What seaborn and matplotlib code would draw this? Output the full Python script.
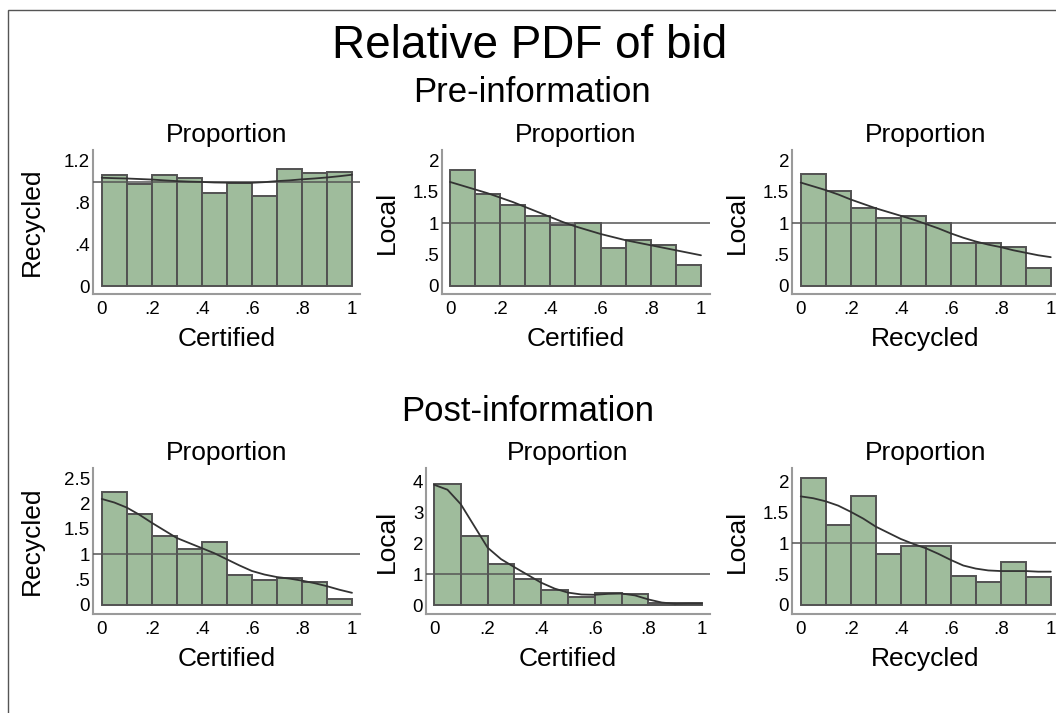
import numpy as np
import matplotlib
matplotlib.use("Agg")
import matplotlib.pyplot as plt
from matplotlib.patches import Rectangle
import seaborn as sns

sns.set_theme(style="white")
plt.rcParams['font.family'] = ['Liberation Sans', 'DejaVu Sans']
plt.rcParams['text.color'] = 'black'
plt.rcParams['axes.labelcolor'] = 'black'
plt.rcParams['xtick.color'] = 'black'
plt.rcParams['ytick.color'] = 'black'

# ---------------- data ----------------
bin_edges = [0.0, 0.1, 0.2, 0.3, 0.4, 0.5, 0.6, 0.7, 0.8, 0.9, 1.0]
curve_x = [0.0, 0.05, 0.1, 0.15, 0.2, 0.25, 0.3, 0.35, 0.4, 0.45, 0.5,
           0.55, 0.6, 0.65, 0.7, 0.75, 0.8, 0.85, 0.9, 0.95, 1.0]
x_ticks = [0, 0.2, 0.4, 0.6, 0.8, 1.0]
x_tick_labels = ["0", ".2", ".4", ".6", ".8", "1"]

pre_rec_cert_bars = [1.06, 0.98, 1.06, 1.03, 0.89, 0.99, 0.86, 1.12, 1.08, 1.09]
pre_rec_cert_curve = [1.037, 1.033, 1.03, 1.025, 1.02, 1.012, 1.005, 1.0, 0.997, 0.992, 0.99,
                      0.989, 0.989, 0.995, 1.005, 1.012, 1.022, 1.03, 1.04, 1.052, 1.066]

pre_loc_cert_bars = [1.85, 1.46, 1.29, 1.11, 0.97, 1.01, 0.61, 0.73, 0.66, 0.33]
pre_loc_cert_curve = [1.66, 1.60, 1.54, 1.48, 1.41, 1.34, 1.26, 1.18, 1.10, 1.02, 0.95,
                      0.89, 0.83, 0.78, 0.73, 0.69, 0.65, 0.61, 0.57, 0.53, 0.49]

pre_loc_rec_bars = [1.79, 1.51, 1.25, 1.09, 1.11, 1.01, 0.68, 0.68, 0.62, 0.29]
pre_loc_rec_curve = [1.65, 1.59, 1.53, 1.46, 1.38, 1.31, 1.24, 1.18, 1.12, 1.06, 0.99,
                     0.92, 0.84, 0.77, 0.71, 0.66, 0.62, 0.57, 0.53, 0.49, 0.46]

post_rec_cert_bars = [2.23, 1.80, 1.36, 1.10, 1.24, 0.59, 0.50, 0.53, 0.45, 0.12]
post_rec_cert_curve = [2.09, 2.02, 1.92, 1.78, 1.62, 1.47, 1.32, 1.22, 1.12, 1.02, 0.90,
                       0.78, 0.67, 0.60, 0.55, 0.52, 0.48, 0.43, 0.37, 0.30, 0.24]

post_loc_cert_bars = [3.90, 2.23, 1.33, 0.83, 0.49, 0.27, 0.39, 0.34, 0.08, 0.08]
post_loc_cert_curve = [3.88, 3.72, 3.25, 2.55, 1.85, 1.48, 1.22, 0.97, 0.72, 0.53, 0.40,
                       0.34, 0.33, 0.36, 0.37, 0.31, 0.18, 0.08, 0.04, 0.05, 0.05]

post_loc_rec_bars = [2.06, 1.29, 1.76, 0.83, 0.95, 0.95, 0.47, 0.37, 0.69, 0.45]
post_loc_rec_curve = [1.76, 1.73, 1.68, 1.61, 1.51, 1.40, 1.27, 1.17, 1.07, 0.99, 0.92,
                      0.83, 0.73, 0.64, 0.59, 0.56, 0.55, 0.55, 0.55, 0.54, 0.54]

title = "Relative PDF of bid"
row_titles = ["Pre-information", "Post-information"]
panel_title = "Proportion"

# ---------------- layout ----------------
W, H = 1056, 713
fig = plt.figure(figsize=(W / 100, H / 100), dpi=100)
fig.patch.set_facecolor("white")

BAR_COLOR = "#9fbc9c"
EDGE_COLOR = "#525252"
LINE_COLOR = "#333333"
HLINE_COLOR = "#555555"
SPINE_COLOR = "#9a9a9a"

# (bars, curve, ylabel, xlabel, yticks, yticklabels, left, right, top, bottom, xlim, ylim, ylabel_x)
panels = [
    (pre_rec_cert_bars, pre_rec_cert_curve, "Recycled", "Certified",
     [0, 0.4, 0.8, 1.2], ["0", ".4", ".8", "1.2"], 93, 360, 150, 294,
     (-0.035, 1.032), (-0.0766, 1.303), 44),
    (pre_loc_cert_bars, pre_loc_cert_curve, "Local", "Certified",
     [0, 0.5, 1, 1.5, 2], ["0", ".5", "1", "1.5", "2"], 442, 710, 150, 294,
     (-0.032, 1.036), (-0.128, 2.17), 399),
    (pre_loc_rec_bars, pre_loc_rec_curve, "Local", "Recycled",
     [0, 0.5, 1, 1.5, 2], ["0", ".5", "1", "1.5", "2"], 792, 1059, 150, 294,
     (-0.035, 1.033), (-0.128, 2.17), 749),
    (post_rec_cert_bars, post_rec_cert_curve, "Recycled", "Certified",
     [0, 0.5, 1, 1.5, 2, 2.5], ["0", ".5", "1", "1.5", "2", "2.5"], 93, 360, 468, 614,
     (-0.035, 1.032), (-0.178, 2.70), 44),
    (post_loc_cert_bars, post_loc_cert_curve, "Local", "Certified",
     [0, 1, 2, 3, 4], ["0", "1", "2", "3", "4"], 426, 710, 468, 614,
     (-0.03, 1.03), (-0.29, 4.42), 399),
    (post_loc_rec_bars, post_loc_rec_curve, "Local", "Recycled",
     [0, 0.5, 1, 1.5, 2], ["0", ".5", "1", "1.5", "2"], 792, 1059, 468, 614,
     (-0.035, 1.033), (-0.146, 2.22), 749),
]

bin_centers = [(a + b) / 2 for a, b in zip(bin_edges[:-1], bin_edges[1:])]

for (bars, curve, ylab, xlab, yt, ytl, l, r, t, b, xlim, ylim, ylx) in panels:
    ax = fig.add_axes([l / W, 1 - b / H, (r - l) / W, (b - t) / H])
    ax.set_facecolor("none")
    sns.histplot(x=bin_centers, weights=bars, bins=bin_edges, stat="count",
                 color=BAR_COLOR, edgecolor=EDGE_COLOR, linewidth=1.4, alpha=1,
                 ax=ax, zorder=2)
    ax.axhline(1, color=HLINE_COLOR, linewidth=1.1, zorder=3)
    sns.lineplot(x=curve_x, y=curve, color=LINE_COLOR, linewidth=1.3, ax=ax, zorder=4)
    ax.set_xlim(*xlim)
    ax.set_ylim(*ylim)
    ax.set_xticks(x_ticks)
    ax.set_xticklabels(x_tick_labels)
    ax.set_yticks(yt)
    ax.set_yticklabels(ytl)
    ax.tick_params(axis="both", length=0, labelsize=13.5, colors="black")
    ax.tick_params(axis="x", pad=5)
    ax.tick_params(axis="y", pad=2)
    for s in ["top", "right"]:
        ax.spines[s].set_visible(False)
    for s in ["left", "bottom"]:
        ax.spines[s].set_color(SPINE_COLOR)
        ax.spines[s].set_linewidth(1.5)
    ax.set_ylabel("")
    ax.set_xlabel(xlab, fontsize=19, labelpad=6.5, color="black")
    ax.set_title(panel_title, fontsize=19, pad=5.8, color="black")
    fig.text(ylx / W, 1 - ((t + b) / 2) / H, ylab, rotation=90, ha="right",
             va="center", fontsize=19, color="black")
    ax.grid(False)

fig.text(530 / W, 1 - 58 / H, title, ha="center", va="baseline", fontsize=33)
fig.text(532 / W, 1 - 102 / H, row_titles[0], ha="center", va="baseline", fontsize=25)
fig.text(528 / W, 1 - 421 / H, row_titles[1], ha="center", va="baseline", fontsize=25)

fig.add_artist(Rectangle((8 / W, -0.1), 1.2, (H - 10) / H + 0.1,
                         transform=fig.transFigure, fill=False,
                         edgecolor="#555555", linewidth=1.0))

fig.savefig("out.png", dpi=100, facecolor="white")
